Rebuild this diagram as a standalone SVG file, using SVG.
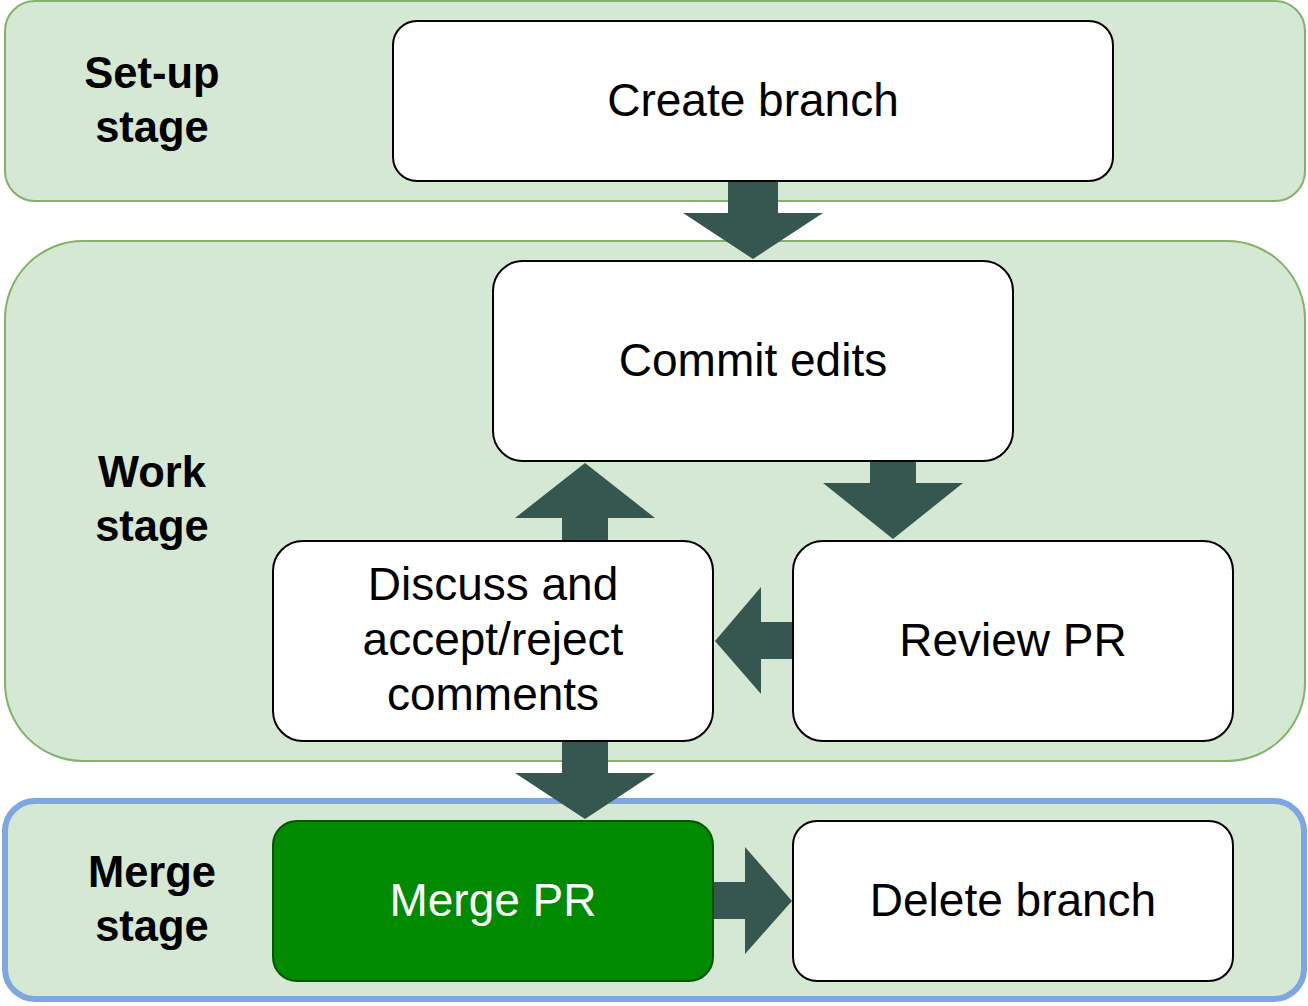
<svg xmlns="http://www.w3.org/2000/svg" width="1308" height="1006" viewBox="0 0 1308 1006">
  <style>
    .stage { fill: #d5e8d4; stroke: #82b366; stroke-width: 2; }
    .box { fill: #ffffff; stroke: #000000; stroke-width: 2; }
    .label { font-family: "Liberation Sans", Arial, sans-serif; font-size: 46px; fill: #000000; text-anchor: middle; }
    .stage-label { font-family: "Liberation Sans", Arial, sans-serif; font-size: 43.5px; font-weight: bold; fill: #000000; text-anchor: middle; }
    .arrow { fill: #365750; }
  </style>

  <!-- stage containers -->
  <g id="setup-stage">
    <rect class="stage" x="5" y="1" width="1300" height="200" rx="30" ry="30"/>
    <text class="stage-label" x="152" y="88">Set-up</text>
    <text class="stage-label" x="152" y="142">stage</text>
  </g>
  <g id="work-stage">
    <rect class="stage" x="5" y="241" width="1300" height="520" rx="78" ry="78"/>
    <text class="stage-label" x="152" y="487">Work</text>
    <text class="stage-label" x="152" y="541">stage</text>
  </g>
  <g id="merge-stage">
    <rect x="5" y="801" width="1299" height="198" rx="30" ry="30" fill="#d5e8d4" stroke="#7ea6e0" stroke-width="6"/>
    <text class="stage-label" x="152" y="887">Merge</text>
    <text class="stage-label" x="152" y="941">stage</text>
  </g>

  <!-- connectors: block arrows -->
  <g id="connectors">
    <polygon class="arrow" points="728,181 778,181 778,213 823,213 753,259 683,213 728,213"/>
    <polygon class="arrow" points="870,461 916,461 916,483 963,483 893,539 823,483 870,483"/>
    <polygon class="arrow" points="793,622 793,659 761,659 761,694 715,641 761,587 761,622"/>
    <polygon class="arrow" points="562,541 608,541 608,518 655,518 585,463 515,518 562,518"/>
    <polygon class="arrow" points="562,741 608,741 608,773 655,773 585,819 515,773 562,773"/>
    <polygon class="arrow" points="713,882 745,882 745,847 792,901 745,954 745,919 713,919"/>
  </g>

  <!-- process steps -->
  <g id="create-branch">
    <rect class="box" x="393" y="21" width="720" height="160" rx="24" ry="24"/>
    <text class="label" x="753" y="116">Create branch</text>
  </g>
  <g id="commit-edits">
    <rect class="box" x="493" y="261" width="520" height="200" rx="30" ry="30"/>
    <text class="label" x="753" y="376">Commit edits</text>
  </g>
  <g id="discuss-comments">
    <rect class="box" x="273" y="541" width="440" height="200" rx="30" ry="30"/>
    <text class="label" x="493" y="600">Discuss and</text>
    <text class="label" x="493" y="655">accept/reject</text>
    <text class="label" x="493" y="710">comments</text>
  </g>
  <g id="review-pr">
    <rect class="box" x="793" y="541" width="440" height="200" rx="30" ry="30"/>
    <text class="label" x="1013" y="656">Review PR</text>
  </g>
  <g id="merge-pr">
    <rect x="273" y="821" width="440" height="160" rx="24" ry="24" fill="#008a00" stroke="#005700" stroke-width="2"/>
    <text class="label" x="493" y="916" style="fill:#ffffff">Merge PR</text>
  </g>
  <g id="delete-branch">
    <rect class="box" x="793" y="821" width="440" height="160" rx="24" ry="24"/>
    <text class="label" x="1013" y="916">Delete branch</text>
  </g>
</svg>
